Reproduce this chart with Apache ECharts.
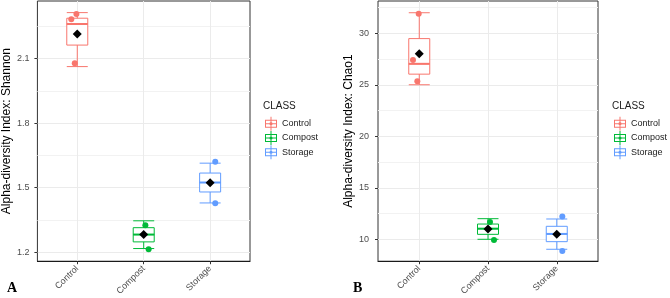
<!DOCTYPE html>
<html>
<head>
<meta charset="utf-8">
<script src="https://cdn.jsdelivr.net/npm/echarts@6/dist/echarts.min.js"></script>
<style>
  html, body { margin: 0; padding: 0; background: #fff; }
  #chart { width: 670px; height: 298px; }
</style>
</head>
<body>
<div id="chart"></div>
<script>
const classes = ["Control", "Compost", "Storage"];
const classColors = ["#F8766D", "#00BA38", "#619CFF"];

// Shannon: box stats per class [min, Q1, median, Q3, max]
const shannonBox = [
  [2.063, 2.163, 2.261, 2.288, 2.314],
  [1.217, 1.248, 1.282, 1.314, 1.346],
  [1.429, 1.480, 1.524, 1.568, 1.614],
];
const shannonMean = [2.214, 1.282, 1.523];
// jittered samples [x position, value]
const shannonPoints = [
  [[0.91, 2.283], [0.987, 2.308], [0.962, 2.078]],
  [[2.025, 1.325], [2.074, 1.214]],
  [[3.077, 1.621], [3.077, 1.428]],
];
const shannonTicks = [1.2, 1.5, 1.8, 2.1];
const shannonMinor = [1.35, 1.65, 1.95, 2.25];
const shannonRange = [1.158, 2.368];

// Chao1
const chaoBox = [
  [25.0, 26.03, 27.03, 29.48, 31.99],
  [10.0, 10.48, 11.03, 11.48, 12.0],
  [9.03, 9.77, 10.52, 11.26, 11.97],
];
const chaoMean = [28.0, 11.0, 10.48];
const chaoPoints = [
  [[0.992, 31.9], [0.909, 27.4], [0.972, 25.35]],
  [[2.029, 11.68], [2.087, 9.94]],
  [[3.081, 12.2], [3.081, 8.87]],
];
const chaoTicks = [10, 15, 20, 25, 30];
const chaoMinor = [12.5, 17.5, 22.5, 27.5, 32.5];
const chaoRange = [7.87, 33.13];

const classPos = [1, 2, 3];

const FONT = "'Liberation Sans', Arial, sans-serif";
const keyIcon = "path://M1 3H13V11H1Z M2 4V10H12V4Z M6.5 0H7.5V14H6.5Z M1 6.5H13V7.5H1Z M8.6 7A1.6 1.6 0 1 1 5.4 7A1.6 1.6 0 1 1 8.6 7Z";

const panels = [
  { name: "Alpha-diversity Index: Shannon", box: shannonBox, mean: shannonMean, points: shannonPoints,
    ticks: shannonTicks, minor: shannonMinor, range: shannonRange, digits: 1,
    grid: { left: 32, top: 1, width: 218, height: 261 }, nameGap: 18, labelMargin: 8 },
  { name: "Alpha-diversity Index: Chao1", box: chaoBox, mean: chaoMean, points: chaoPoints,
    ticks: chaoTicks, minor: chaoMinor, range: chaoRange, digits: 0,
    grid: { left: 378, top: 1, width: 220, height: 261 }, nameGap: 19, labelMargin: 9 },
];

const grid = [], xAxis = [], yAxis = [], series = [];

panels.forEach((p, g) => {
  grid.push(Object.assign({ show: true, borderColor: "#333", borderWidth: 1, backgroundColor: "#fff" }, p.grid));

  xAxis.push({
    type: "value", gridIndex: g, min: 0.4, max: 3.6,
    axisLine: { show: true, onZero: false, lineStyle: { color: "#1a1a1a", width: 1 } },
    axisTick: { show: true, length: 3, customValues: classPos, lineStyle: { color: "#333" } },
    axisLabel: {
      customValues: classPos, rotate: 45, margin: 6, fontSize: 9, color: "#4D4D4D", fontFamily: FONT,
      formatter: (v) => classes[Math.round(v) - 1],
    },
    splitLine: { show: true, lineStyle: { color: "#EBEBEB", width: 1 } },
  });

  yAxis.push({
    type: "value", gridIndex: g, min: p.range[0], max: p.range[1],
    name: p.name, nameLocation: "middle", nameGap: p.nameGap,
    nameTextStyle: { fontSize: 12, color: "#000", fontFamily: FONT },
    axisLine: { show: false, onZero: false },
    axisTick: { show: true, length: 3, customValues: p.ticks, lineStyle: { color: "#333" } },
    axisLabel: {
      customValues: p.ticks, margin: p.labelMargin, fontSize: 9, color: "#4D4D4D", fontFamily: FONT,
      formatter: (v) => v.toFixed(p.digits),
    },
    splitLine: { show: true, lineStyle: { color: "#EBEBEB", width: 1 } },
  });
  // minor grid lines
  yAxis.push({
    type: "value", gridIndex: g, min: p.range[0], max: p.range[1], position: "left",
    axisLine: { show: false, onZero: false },
    axisTick: { show: false, customValues: p.minor },
    axisLabel: { show: false },
    splitLine: { show: true, lineStyle: { color: "#F2F2F2", width: 1 } },
  });

  classes.forEach((cls, i) => {
    series.push({
      name: cls, type: "scatter", xAxisIndex: g, yAxisIndex: 2 * g,
      data: p.points[i], symbol: "circle", symbolSize: 6,
      itemStyle: { color: classColors[i], opacity: 1 }, z: 4, silent: true,
    });
  });
  // one boxplot series per panel so boxes are not dodged
  series.push({
    name: "box", type: "boxplot", xAxisIndex: g, yAxisIndex: 2 * g,
    data: classes.map((cls, i) => ({
      value: [classPos[i]].concat(p.box[i]),
      itemStyle: { color: "#fff", borderColor: classColors[i], borderWidth: 1 },
    })),
    boxWidth: [21, 21],
    z: 3, silent: true,
  });
  // thicker median bar, as ggplot draws it
  series.push({
    name: "median", type: "scatter", xAxisIndex: g, yAxisIndex: 2 * g,
    data: classes.map((cls, i) => ({
      value: [classPos[i], p.box[i][2]],
      itemStyle: { color: classColors[i], opacity: 1 },
    })),
    symbol: "rect", symbolSize: [21, 2], z: 3.5, silent: true,
  });
  series.push({
    name: "mean", type: "scatter", xAxisIndex: g, yAxisIndex: 2 * g,
    data: classPos.map((x, i) => [x, p.mean[i]]),
    symbol: "diamond", symbolSize: 9, itemStyle: { color: "#000", opacity: 1 }, z: 5, silent: true,
  });
});

const legendBase = {
  data: classes, orient: "vertical", icon: keyIcon, itemWidth: 12, itemHeight: 14, itemGap: 0.3,
  selectedMode: false, padding: 0,
  textStyle: { fontSize: 9, color: "#1a1a1a", fontFamily: FONT },
};

const option = {
  animation: false,
  title: [
    { text: "A", left: 7, top: 281, padding: 0, textStyle: { fontFamily: "'Liberation Serif', serif", fontWeight: "bold", fontSize: 14, color: "#000" } },
    { text: "B", left: 353, top: 281, padding: 0, textStyle: { fontFamily: "'Liberation Serif', serif", fontWeight: "bold", fontSize: 14, color: "#000" } },
    { text: "CLASS", left: 263, top: 101, padding: 0, textStyle: { fontFamily: FONT, fontWeight: "normal", fontSize: 10, color: "#1a1a1a" } },
    { text: "CLASS", left: 612, top: 101, padding: 0, textStyle: { fontFamily: FONT, fontWeight: "normal", fontSize: 10, color: "#1a1a1a" } },
  ],
  legend: [
    Object.assign({ left: 265, top: 116.7 }, legendBase),
    Object.assign({ left: 614, top: 116.7 }, legendBase),
  ],
  grid, xAxis, yAxis, series,
};

const chart = echarts.init(document.getElementById("chart"));
chart.setOption(option);
</script>
</body>
</html>
